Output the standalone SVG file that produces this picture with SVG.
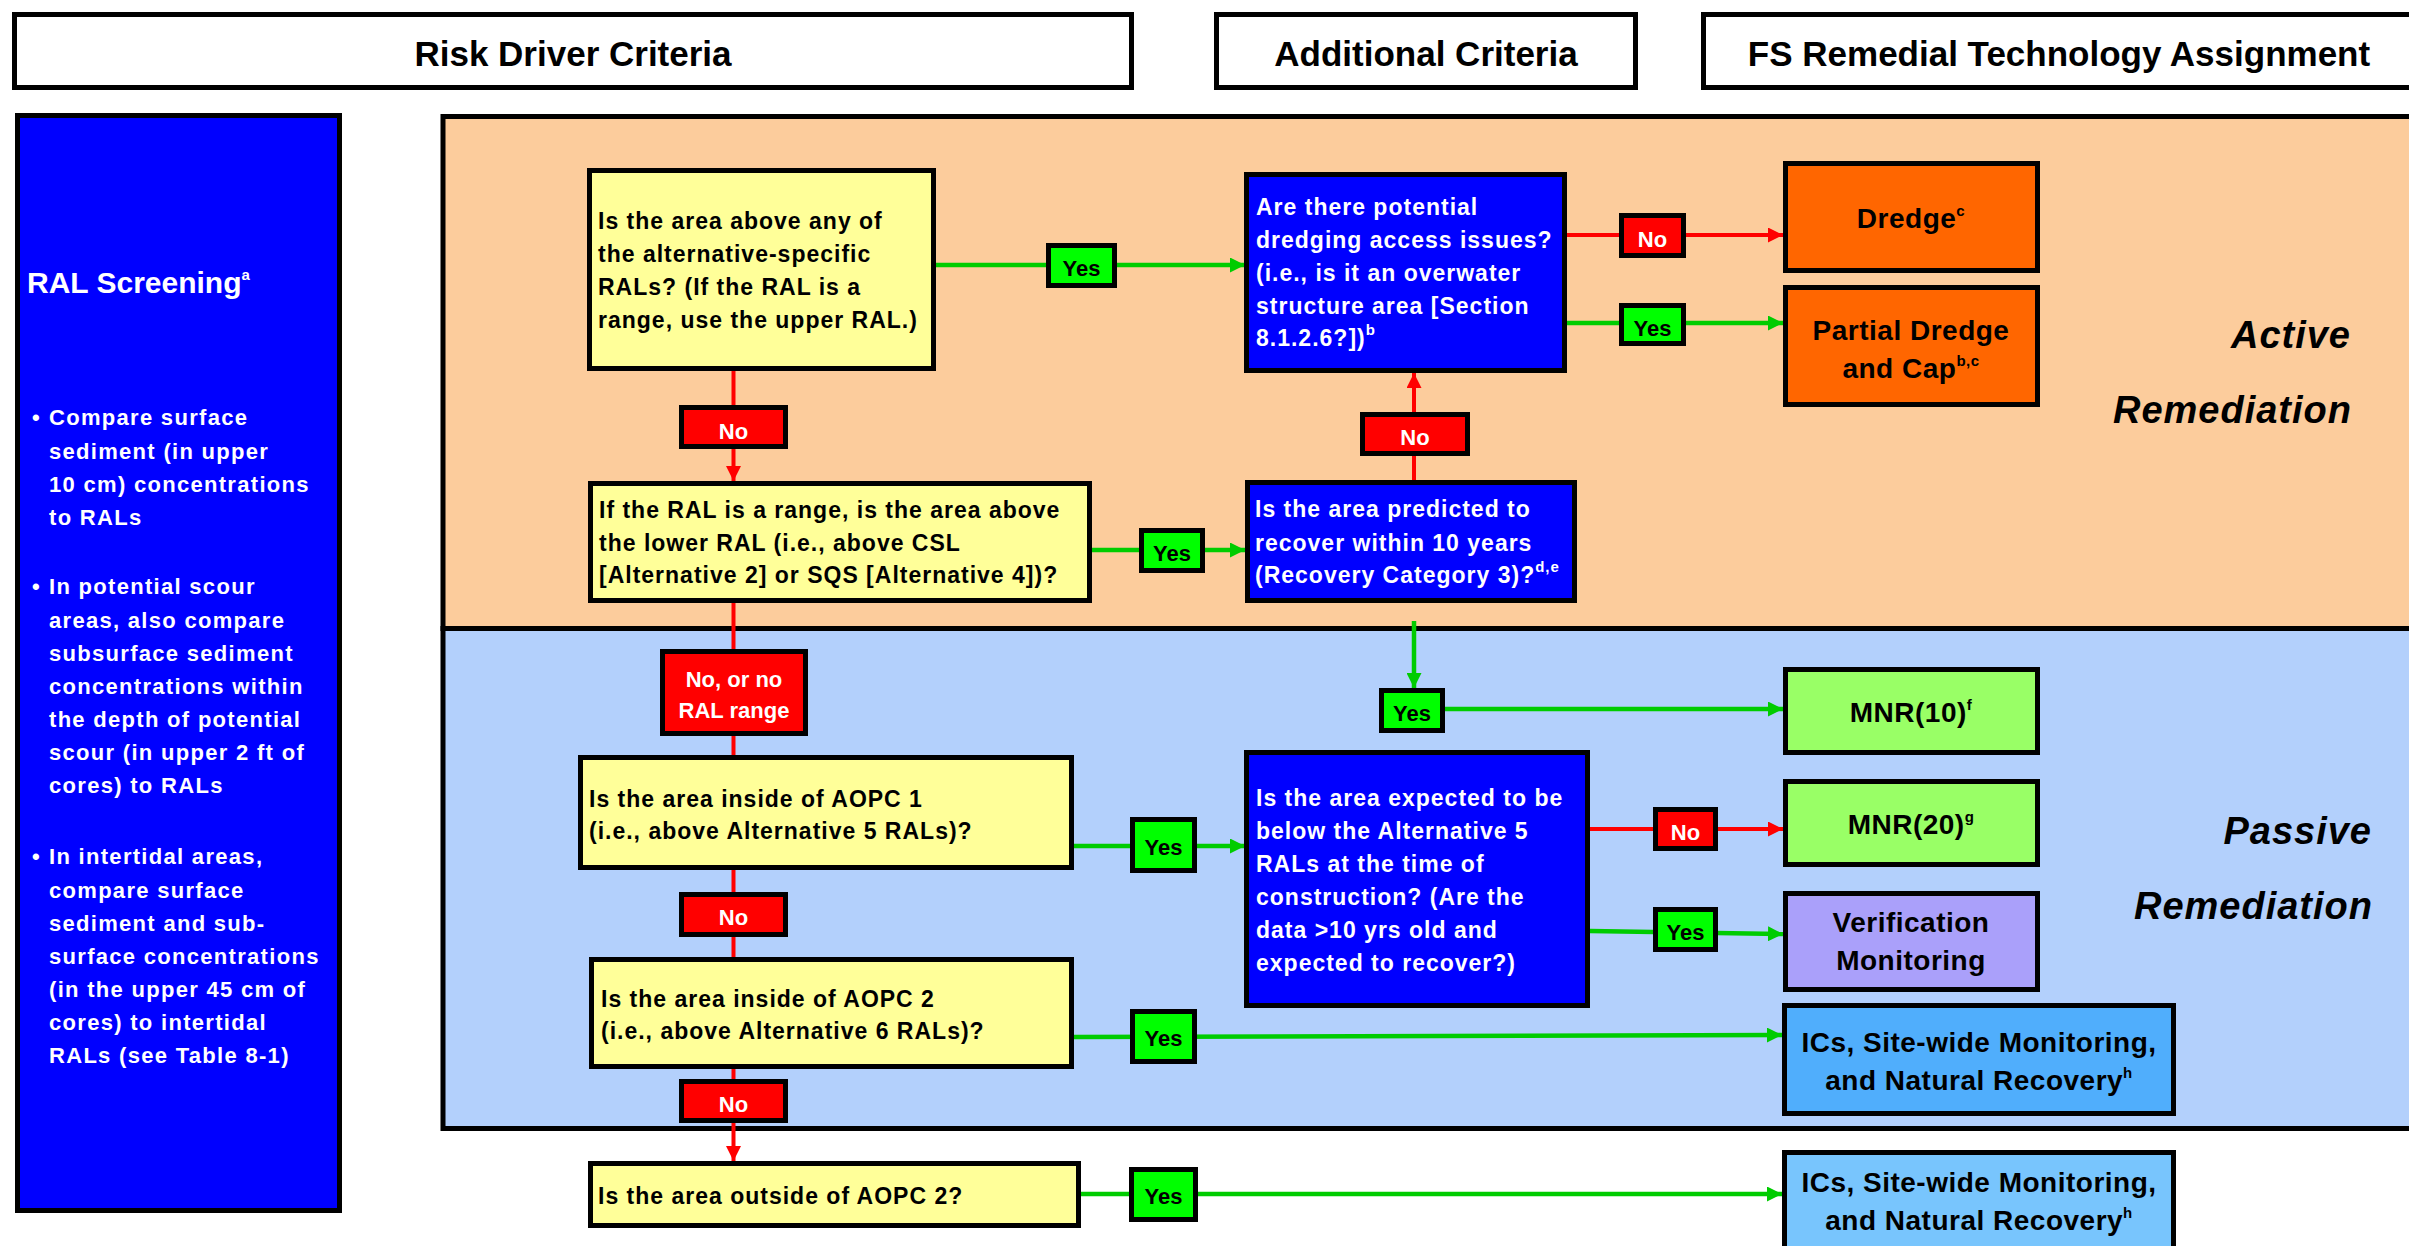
<svg xmlns="http://www.w3.org/2000/svg" width="2409" height="1246" viewBox="0 0 2409 1246">
<defs>
<style>
text{font-family:"Liberation Sans",Arial,sans-serif;font-weight:bold}
.hdr rect{fill:#fff;stroke:#000;stroke-width:5}
.hdr text{font-size:35px;text-anchor:middle;fill:#000}
.region{stroke:#000;stroke-width:5}
.panel rect{fill:#0000ff;stroke:#000;stroke-width:5}
.panel text{fill:#fff;font-size:22px;letter-spacing:1.3px}
.panel .ttl{font-size:30px;letter-spacing:0}
.q rect{stroke:#000;stroke-width:5}
.qy rect{fill:#ffff99}
.qb rect{fill:#0000ff}
.q text{font-size:23px;letter-spacing:1px}
.qy text{fill:#000}
.qb text{fill:#fff}
.r rect{stroke:#000;stroke-width:5}
.r text{font-size:28px;text-anchor:middle;fill:#000;letter-spacing:0.5px}
.sup{font-size:15px}
.lbl rect{stroke:#000;stroke-width:5}
.yes rect{fill:#00ff00}
.no rect{fill:#ff0000}
.lbl text{font-size:22px;text-anchor:middle}
.yes text{fill:#000}
.no text{fill:#fff}
.g{stroke:#00cc00;stroke-width:4.5;fill:none}
.rd{stroke:#ff0000;stroke-width:4;fill:none}
.big{font-size:38px;font-style:italic;text-anchor:end;letter-spacing:1px;fill:#000}
</style>
<marker id="ag" markerUnits="userSpaceOnUse" markerWidth="15" markerHeight="15" refX="15" refY="7.5" orient="auto"><path d="M0,0 L15,7.5 L0,15 z" fill="#00cc00"/></marker>
<marker id="ar" markerUnits="userSpaceOnUse" markerWidth="15" markerHeight="15" refX="15" refY="7.5" orient="auto"><path d="M0,0 L15,7.5 L0,15 z" fill="#ff0000"/></marker>
</defs>
<rect x="0" y="0" width="2409" height="1246" fill="#fff"/>

<!-- header bars -->
<g id="hdr-risk" class="hdr"><rect x="14.5" y="14.5" width="1117" height="73"/><text x="573" y="66">Risk Driver Criteria</text></g>
<g id="hdr-additional" class="hdr"><rect x="1216.5" y="14.5" width="419" height="73"/><text x="1426" y="66">Additional Criteria</text></g>
<g id="hdr-fs" class="hdr"><rect x="1703.5" y="14.5" width="800" height="73"/><text x="2059" y="66">FS Remedial Technology Assignment</text></g>

<!-- zones -->
<g id="zone-active"><rect class="region" x="443" y="116.5" width="2000" height="512" fill="#fccc9c"/>
<text class="big" x="2351" y="348">Active</text><text class="big" x="2352" y="423">Remediation</text></g>
<g id="zone-passive"><rect class="region" x="443" y="628.5" width="2000" height="500" fill="#b3d0fc"/>
<text class="big" x="2372" y="844">Passive</text><text class="big" x="2373" y="919">Remediation</text></g>

<!-- left panel -->
<g id="ral-screening" class="panel">
<rect x="17.5" y="115.5" width="322" height="1095"/>
<text class="ttl" x="27" y="293">RAL Screening<tspan class="sup" dy="-13">a</tspan></text>
<text x="32" y="425">•</text>
<text x="49" y="425">Compare surface</text>
<text x="49" y="459">sediment (in upper</text>
<text x="49" y="492">10 cm) concentrations</text>
<text x="49" y="525">to RALs</text>
<text x="32" y="594">•</text>
<text x="49" y="594">In potential scour</text>
<text x="49" y="628">areas, also compare</text>
<text x="49" y="661">subsurface sediment</text>
<text x="49" y="694">concentrations within</text>
<text x="49" y="727">the depth of potential</text>
<text x="49" y="760">scour (in upper 2 ft of</text>
<text x="49" y="793">cores) to RALs</text>
<text x="32" y="864">•</text>
<text x="49" y="864">In intertidal areas,</text>
<text x="49" y="898">compare surface</text>
<text x="49" y="931">sediment and sub-</text>
<text x="49" y="964">surface concentrations</text>
<text x="49" y="997">(in the upper 45 cm of</text>
<text x="49" y="1030">cores) to intertidal</text>
<text x="49" y="1063">RALs (see Table 8-1)</text>
</g>

<!-- connectors -->
<g id="connectors">
<path class="g" d="M936,265 H1245" marker-end="url(#ag)"/>
<path class="rd" d="M1567,235 H1783" marker-end="url(#ar)"/>
<path class="g" d="M1567,323 H1783" marker-end="url(#ag)"/>
<path class="rd" d="M733.5,371 V481" marker-end="url(#ar)"/>
<path class="g" d="M1092,550 H1245" marker-end="url(#ag)"/>
<path class="rd" d="M1414,480 V373" marker-end="url(#ar)"/>
<path class="g" d="M1414,621 V688" marker-end="url(#ag)"/>
<path class="g" d="M1445,709 H1783" marker-end="url(#ag)"/>
<path class="rd" d="M733.5,603 V755"/>
<path class="g" d="M1074,846 H1245" marker-end="url(#ag)"/>
<path class="rd" d="M1590,829 H1783" marker-end="url(#ar)"/>
<path class="g" d="M1590,931 L1783,934" marker-end="url(#ag)"/>
<path class="rd" d="M733.5,870 V957"/>
<path class="g" d="M1074,1037 L1782,1035" marker-end="url(#ag)"/>
<path class="rd" d="M733.5,1069 V1161" marker-end="url(#ar)"/>
<path class="g" d="M1081,1194 H1782" marker-end="url(#ag)"/>
</g>

<!-- connector labels -->
<g id="connector-labels">
<g class="lbl yes"><rect x="1048.5" y="245.5" width="66" height="40"/><text x="1081.5" y="276">Yes</text></g>
<g class="lbl no"><rect x="1621.5" y="215.5" width="62" height="40"/><text x="1652.5" y="247">No</text></g>
<g class="lbl yes"><rect x="1621.5" y="305.5" width="62" height="38"/><text x="1652.5" y="336">Yes</text></g>
<g class="lbl no"><rect x="681.5" y="407.5" width="104" height="39"/><text x="733.5" y="439">No</text></g>
<g class="lbl no"><rect x="1362.5" y="414.5" width="105" height="39"/><text x="1415" y="445">No</text></g>
<g class="lbl yes"><rect x="1141.5" y="530.5" width="61" height="40"/><text x="1172" y="561">Yes</text></g>
<g class="lbl yes"><rect x="1381.5" y="690.5" width="61" height="40"/><text x="1412" y="721">Yes</text></g>
<g class="lbl no"><rect x="662.5" y="651.5" width="143" height="82"/><text x="734" y="687">No, or no</text><text x="734" y="718">RAL range</text></g>
<g class="lbl yes"><rect x="1132.5" y="819.5" width="62" height="51"/><text x="1163.5" y="855">Yes</text></g>
<g class="lbl no"><rect x="1655.5" y="809.5" width="60" height="39"/><text x="1685.5" y="840">No</text></g>
<g class="lbl yes"><rect x="1655.5" y="909.5" width="60" height="40"/><text x="1685.5" y="940">Yes</text></g>
<g class="lbl no"><rect x="681.5" y="894.5" width="104" height="40"/><text x="733.5" y="925">No</text></g>
<g class="lbl yes"><rect x="1132.5" y="1011.5" width="62" height="50"/><text x="1163.5" y="1046">Yes</text></g>
<g class="lbl no"><rect x="681.5" y="1081.5" width="104" height="39"/><text x="733.5" y="1112">No</text></g>
<g class="lbl yes"><rect x="1131.5" y="1169.5" width="64" height="50"/><text x="1163.5" y="1204">Yes</text></g>
</g>

<!-- question nodes -->
<g id="q-above-any-ral" class="q qy"><rect x="589.5" y="170.5" width="344" height="198"/>
<text x="598" y="229">Is the area above any of</text>
<text x="598" y="262">the alternative-specific</text>
<text x="598" y="295">RALs? (If the RAL is a</text>
<text x="598" y="328">range, use the upper RAL.)</text></g>
<g id="q-lower-ral" class="q qy"><rect x="590.5" y="483.5" width="499" height="117"/>
<text x="599" y="518">If the RAL is a range, is the area above</text>
<text x="599" y="551">the lower RAL (i.e., above CSL</text>
<text x="599" y="583">[Alternative 2] or SQS [Alternative 4])?</text></g>
<g id="q-aopc1" class="q qy"><rect x="580.5" y="757.5" width="491" height="110"/>
<text x="589" y="807">Is the area inside of AOPC 1</text>
<text x="589" y="839">(i.e., above Alternative 5 RALs)?</text></g>
<g id="q-aopc2" class="q qy"><rect x="591.5" y="959.5" width="480" height="107"/>
<text x="601" y="1007">Is the area inside of AOPC 2</text>
<text x="601" y="1039">(i.e., above Alternative 6 RALs)?</text></g>
<g id="q-outside-aopc2" class="q qy"><rect x="590.5" y="1163.5" width="488" height="62"/>
<text x="598" y="1204">Is the area outside of AOPC 2?</text></g>

<g id="q-dredging-access" class="q qb"><rect x="1246.5" y="174.5" width="318" height="196"/>
<text x="1256" y="215">Are there potential</text>
<text x="1256" y="248">dredging access issues?</text>
<text x="1256" y="281">(i.e., is it an overwater</text>
<text x="1256" y="314">structure area [Section</text>
<text x="1256" y="346">8.1.2.6?])<tspan class="sup" dy="-11">b</tspan></text></g>
<g id="q-recover-10" class="q qb"><rect x="1247.5" y="482.5" width="327" height="118"/>
<text x="1255" y="517">Is the area predicted to</text>
<text x="1255" y="551">recover within 10 years</text>
<text x="1255" y="583">(Recovery Category 3)?<tspan class="sup" dy="-11">d,e</tspan></text></g>
<g id="q-below-alt5" class="q qb"><rect x="1246.5" y="752.5" width="341" height="253"/>
<text x="1256" y="806">Is the area expected to be</text>
<text x="1256" y="839">below the Alternative 5</text>
<text x="1256" y="872">RALs at the time of</text>
<text x="1256" y="905">construction? (Are the</text>
<text x="1256" y="938">data &gt;10 yrs old and</text>
<text x="1256" y="971">expected to recover?)</text></g>

<!-- result nodes -->
<g id="r-dredge" class="r"><rect x="1785.5" y="163.5" width="252" height="107" fill="#ff6600"/>
<text x="1911" y="228">Dredge<tspan class="sup" dy="-12">c</tspan></text></g>
<g id="r-partial-dredge-cap" class="r"><rect x="1785.5" y="287.5" width="252" height="117" fill="#ff6600"/>
<text x="1911" y="340">Partial Dredge</text>
<text x="1911" y="378">and Cap<tspan class="sup" dy="-12">b,c</tspan></text></g>
<g id="r-mnr10" class="r"><rect x="1785.5" y="669.5" width="252" height="83" fill="#99ff66"/>
<text x="1911" y="722">MNR(10)<tspan class="sup" dy="-12">f</tspan></text></g>
<g id="r-mnr20" class="r"><rect x="1785.5" y="781.5" width="252" height="83" fill="#99ff66"/>
<text x="1911" y="834">MNR(20)<tspan class="sup" dy="-12">g</tspan></text></g>
<g id="r-verification" class="r"><rect x="1785.5" y="893.5" width="252" height="96" fill="#aaa0fa"/>
<text x="1911" y="932">Verification</text>
<text x="1911" y="970">Monitoring</text></g>
<g id="r-ics-1" class="r"><rect x="1784.5" y="1005.5" width="389" height="108" fill="#50aefc"/>
<text x="1979" y="1052">ICs, Site-wide Monitoring,</text>
<text x="1979" y="1090">and Natural Recovery<tspan class="sup" dy="-12">h</tspan></text></g>
<g id="r-ics-2" class="r"><rect x="1784.5" y="1152.5" width="389" height="120" fill="#78c5fd"/>
<text x="1979" y="1192">ICs, Site-wide Monitoring,</text>
<text x="1979" y="1230">and Natural Recovery<tspan class="sup" dy="-12">h</tspan></text></g>
</svg>
